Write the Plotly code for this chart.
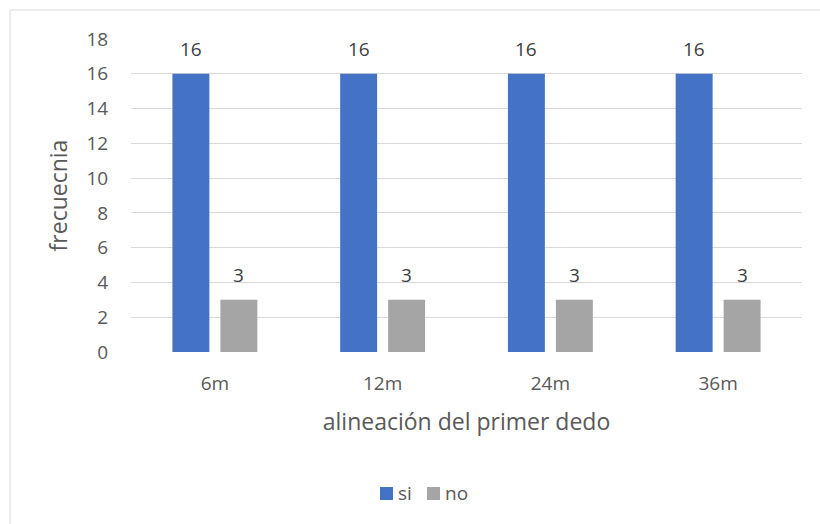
import plotly.graph_objects as go

categories = ["6m", "12m", "24m", "36m"]
si_values = [16, 16, 16, 16]
no_values = [3, 3, 3, 3]
y_ticks = [0, 2, 4, 6, 8, 10, 12, 14, 16, 18]
series_names = ["si", "no"]
series_colors = ["#4472C4", "#A5A5A5"]

W, H = 820, 524
L, R, T, B = 131, 18, 39, 172
pw, ph = W - L - R, H - T - B


def px(x):
    return (x - L) / pw


def py(y):
    return (H - B - y) / ph


font = "Open Sans"
txt = "#595959"

fig = go.Figure()
for name, vals, col in zip(series_names, (si_values, no_values), series_colors):
    fig.add_trace(go.Bar(name=name, x=categories, y=vals, marker=dict(color=col, line=dict(width=0)),
                         showlegend=False))

annotations = []
for vals, shift in ((si_values, -24), (no_values, 24)):
    for c, v in zip(categories, vals):
        annotations.append(dict(x=c, y=v, xref="x", yref="y", text=str(v), showarrow=False,
                                xshift=shift, yshift=10, yanchor="bottom",
                                font=dict(family=font, size=19, color="#404040")))

shapes = [dict(type="rect", xref="paper", yref="paper",
               x0=px(10), x1=px(W + 10), y0=py(H + 10), y1=py(10),
               line=dict(color="#D9D9D9", width=1), fillcolor="rgba(0,0,0,0)", layer="below")]

# custom legend (keys + labels)
leg_x = [380, 427]
for name, col, lx in zip(series_names, series_colors, leg_x):
    shapes.append(dict(type="rect", xref="paper", yref="paper",
                       x0=px(lx), x1=px(lx + 13), y0=py(500), y1=py(487),
                       line=dict(width=0), fillcolor=col))
    annotations.append(dict(x=px(lx + 16), y=py(493), xref="paper", yref="paper", text=name,
                            showarrow=False, xanchor="left", yanchor="middle",
                            font=dict(family=font, size=19, color=txt)))

fig.update_layout(
    width=W, height=H,
    margin=dict(l=L, r=R, t=T, b=B),
    paper_bgcolor="white", plot_bgcolor="white",
    barmode="group", bargap=0.428, bargroupgap=0.23,
    font=dict(family=font, size=18, color=txt),
    showlegend=False,
    xaxis=dict(showgrid=False, showline=False, zeroline=False, ticks="outside", ticklen=14,
               tickcolor="rgba(0,0,0,0)", tickfont=dict(size=19, color=txt),
               title=dict(text="alineación del primer dedo", font=dict(size=23, color=txt), standoff=19)),
    yaxis=dict(range=[0, 18], tickvals=y_ticks, showgrid=True, gridcolor="#D9D9D9", gridwidth=1.3,
               zeroline=False, showline=False, ticks="outside", ticklen=18, tickcolor="rgba(0,0,0,0)",
               tickfont=dict(size=19, color=txt),
               title=dict(text="frecuecnia", font=dict(size=23, color=txt), standoff=12)),
    annotations=annotations,
    shapes=shapes,
)

fig.write_html("out.html")
